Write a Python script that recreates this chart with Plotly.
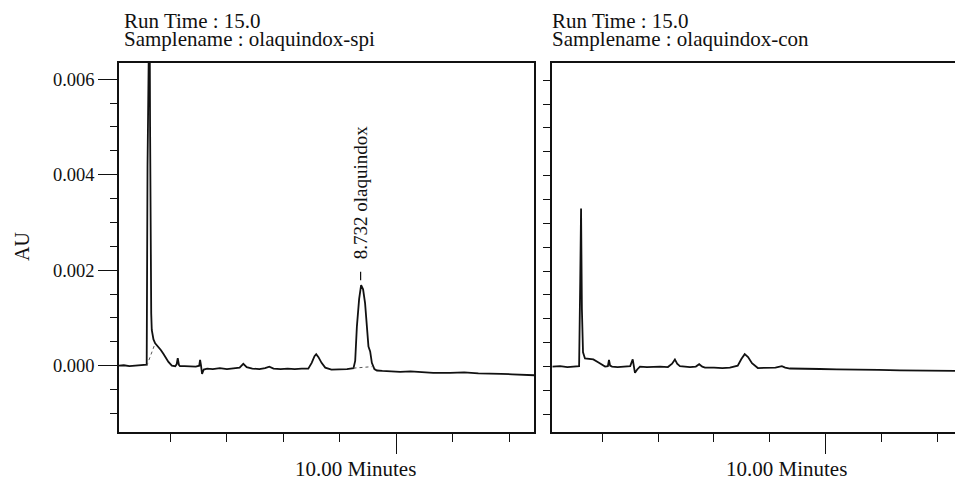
import plotly.graph_objects as go

# ---------------- data ----------------
run_time_text = "Run Time : 15.0"
sample_left = "Samplename : olaquindox-spi"
sample_right = "Samplename : olaquindox-con"
x_label = "10.00 Minutes"
y_label = "AU"

peak_name = "8.732 olaquindox"
peak_time = 8.732
peak_height = 0.00169

# left chromatogram (spiked sample): time [min], absorbance [AU]
spi_time = [0.18, 0.35, 0.55, 0.75, 0.95, 1.10, 1.16, 1.19, 1.22, 1.26, 1.28, 1.30, 1.32, 1.34,
            1.40, 1.46, 1.52, 1.58, 1.66, 1.75, 1.84, 1.93, 2.05, 2.17, 2.22, 2.26, 2.30, 2.34,
            2.50, 2.70, 2.90, 3.02, 3.05, 3.08, 3.12, 3.18, 3.30, 3.50, 3.75, 4.00, 4.25, 4.45,
            4.58, 4.70, 4.90, 5.15, 5.35, 5.50, 5.65, 5.90, 6.15, 6.40, 6.65, 6.88, 7.00, 7.10,
            7.16, 7.24, 7.35, 7.48, 7.70, 8.01, 8.25, 8.48, 8.54, 8.60, 8.68, 8.75, 8.82, 8.89,
            8.95, 9.01, 9.07, 9.13, 9.22, 9.31, 9.50, 9.80, 10.13, 10.50, 10.90, 11.30, 11.90,
            12.40, 12.90, 13.30, 13.70, 14.10, 14.50, 14.88]
spi_au = [0.00000, 0.00001, -0.00001, 0.00000, 0.00000, 0.00001, 0.00002, 0.00420, 0.00800, 0.00800, 0.00500, 0.00220, 0.00110, 0.00075,
          0.00055, 0.00047, 0.00043, 0.00040, 0.00033, 0.00025, 0.00016, 0.00008, 0.00000, -0.00001, 0.00003, 0.00016, 0.00002, -0.00001,
          -0.00001, -0.00002, -0.00002, 0.00000, 0.00012, 0.00002, -0.00017, -0.00008, -0.00006, -0.00007, -0.00005, -0.00007, -0.00005, -0.00004,
          0.00004, -0.00003, -0.00006, -0.00007, -0.00005, -0.00002, -0.00006, -0.00007, -0.00006, -0.00007, -0.00006, -0.00006, 0.00006, 0.00020,
          0.00024, 0.00018, 0.00006, -0.00004, -0.00008, -0.00008, -0.00007, -0.00005, 0.00010, 0.00082, 0.00140, 0.00169, 0.00160, 0.00131,
          0.00080, 0.00040, 0.00030, 0.00006, -0.00007, -0.00010, -0.00011, -0.00012, -0.00013, -0.00012, -0.00014, -0.00015, -0.00015,
          -0.00014, -0.00016, -0.00016, -0.00017, -0.00018, -0.00019, -0.00020]

# dotted integration baselines (left panel)
base1_time = [1.165, 1.46]
base1_au = [0.00000, 0.00047]
base2_time = [8.48, 9.13]
base2_au = [-0.00005, -0.00002]

# right chromatogram (control sample)
con_time = [0.21, 0.49, 0.75, 1.02, 1.17, 1.21, 1.24, 1.27, 1.29, 1.31, 1.38, 1.50, 1.68, 1.85, 1.98,
            2.10, 2.20, 2.24, 2.28, 2.35, 2.55, 2.81, 3.00, 3.09, 3.13, 3.17, 3.25, 3.35, 3.60, 3.85,
            4.07, 4.35, 4.50, 4.60, 4.68, 4.78, 5.14, 5.35, 5.47, 5.58, 5.68, 6.00, 6.30, 6.57, 6.85,
            6.98, 7.10, 7.22, 7.36, 7.57, 7.90, 8.20, 8.43, 8.55, 8.72, 9.20, 9.79, 10.40, 11.20, 11.90,
            12.66, 13.30, 14.00, 14.63]
con_au = [0.00000, 0.00001, -0.00001, 0.00000, 0.00001, 0.00180, 0.00331, 0.00120, 0.00060, 0.00030, 0.00017, 0.00016, 0.00015, 0.00009, 0.00004,
          0.00000, 0.00001, 0.00014, 0.00002, 0.00000, -0.00001, 0.00000, 0.00001, 0.00015, 0.00002, -0.00013, -0.00006, 0.00000, -0.00001, 0.00000,
          0.00000, -0.00001, 0.00006, 0.00015, 0.00006, 0.00001, -0.00001, 0.00000, 0.00005, 0.00000, -0.00002, -0.00002, -0.00003, -0.00002, 0.00002,
          0.00016, 0.00026, 0.00020, 0.00007, -0.00003, -0.00003, -0.00002, 0.00001, -0.00002, -0.00004, -0.00004, -0.00005, -0.00006, -0.00006, -0.00007,
          -0.00008, -0.00008, -0.00009, -0.00009]

# axis ticks
y_major = [0.000, 0.002, 0.004, 0.006]
y_major_text = ["0.000", "0.002", "0.004", "0.006"]
y_all_ticks = [-0.0010, -0.0005, 0.0000, 0.0005, 0.0010, 0.0015, 0.0020, 0.0025, 0.0030,
               0.0035, 0.0040, 0.0045, 0.0050, 0.0055, 0.0060]
x_major = [10]
x_minor = [2, 4, 6, 8, 12, 14]

# ---------------- figure ----------------
W, H = 955, 484
FONT = "Liberation Serif"
BLACK = "#111111"

fig = go.Figure()
line_style = dict(color=BLACK, width=1.8)
fig.add_trace(go.Scatter(x=spi_time, y=spi_au, mode="lines", line=line_style,
                         xaxis="x", yaxis="y", showlegend=False))
fig.add_trace(go.Scatter(x=base1_time, y=base1_au, mode="lines",
                         line=dict(color="#555555", width=1, dash="dot"),
                         xaxis="x", yaxis="y", showlegend=False))
fig.add_trace(go.Scatter(x=base2_time, y=base2_au, mode="lines",
                         line=dict(color="#555555", width=1, dash="dot"),
                         xaxis="x", yaxis="y", showlegend=False))
fig.add_trace(go.Scatter(x=con_time, y=con_au, mode="lines", line=line_style,
                         xaxis="x2", yaxis="y2", showlegend=False))
# peak marker dash
fig.add_trace(go.Scatter(x=[peak_time, peak_time],
                         y=[peak_height + 0.00010, peak_height + 0.00028],
                         mode="lines", line=dict(color=BLACK, width=1.2),
                         xaxis="x", yaxis="y", showlegend=False))

ydom = [1 - 432 / H, 1 - 62.5 / H]
axis_common = dict(showgrid=False, zeroline=False, showline=True, linecolor=BLACK,
                   linewidth=1.5, ticks="outside", tickcolor=BLACK, tickwidth=1.2,
                   automargin=False)

fig.update_layout(
    width=W, height=H,
    margin=dict(l=0, r=0, t=0, b=0, autoexpand=False),
    paper_bgcolor="white", plot_bgcolor="white",
    font=dict(family=FONT, color=BLACK, size=19),
    xaxis=dict(domain=[119 / W, 534.3 / W], range=[0.18, 14.88], anchor="y",
               mirror=True, tickmode="array", tickvals=x_major, ticklen=20,
               showticklabels=False,
               minor=dict(tickmode="array", tickvals=x_minor, ticklen=8, ticks="outside",
                          tickcolor=BLACK, tickwidth=1.2),
               **axis_common),
    yaxis=dict(domain=ydom, range=[-0.001388, 0.00635], anchor="x",
               mirror=True, tickmode="array", tickvals=y_major, ticktext=y_major_text,
               ticklen=19, tickfont=dict(family=FONT, size=18.5, color=BLACK),
               minor=dict(tickmode="linear", tick0=0, dtick=0.0005, ticklen=7,
                          ticks="outside", tickcolor=BLACK, tickwidth=1.2),
               **axis_common),
    xaxis2=dict(domain=[552.3 / W, 1.0], range=[0.21, 14.63], anchor="y2",
                mirror=True, tickmode="array", tickvals=x_major, ticklen=20,
                showticklabels=False,
                minor=dict(tickmode="array", tickvals=x_minor, ticklen=8, ticks="outside",
                           tickcolor=BLACK, tickwidth=1.2),
                **axis_common),
    yaxis2=dict(domain=ydom, range=[-0.00137, 0.00637], anchor="x2",
                mirror=False, tickmode="array", tickvals=y_all_ticks, ticklen=8,
                showticklabels=False, **axis_common),
)

ann = []
def paper_text(text, x, y, xanchor="left", size=19, angle=0):
    ann.append(dict(text=text, x=x / W, y=1 - y / H, xref="paper", yref="paper",
                    xanchor=xanchor, yanchor="middle", showarrow=False, textangle=angle,
                    font=dict(family=FONT, size=size, color=BLACK)))

paper_text(run_time_text, 122, 20.5, size=21)
paper_text(sample_left, 122, 39.5, size=21)
paper_text(run_time_text, 550, 20.5, size=21)
paper_text(sample_right, 550, 39.5, size=21)
paper_text(x_label, 355.5, 469, xanchor="center", size=21)
paper_text(x_label, 786, 469, xanchor="center", size=21)
paper_text(y_label, 22, 247, xanchor="center", size=20, angle=-90)

ann.append(dict(text=peak_name, x=peak_time, y=peak_height + 0.00050, xref="x", yref="y",
                xanchor="center", yanchor="bottom", showarrow=False, textangle=-90,
                font=dict(family=FONT, size=19, color=BLACK)))
fig.update_layout(annotations=ann)

fig.write_html("out.html", config={"displayModeBar": False},
               post_script="document.body.style.margin='0px';")
